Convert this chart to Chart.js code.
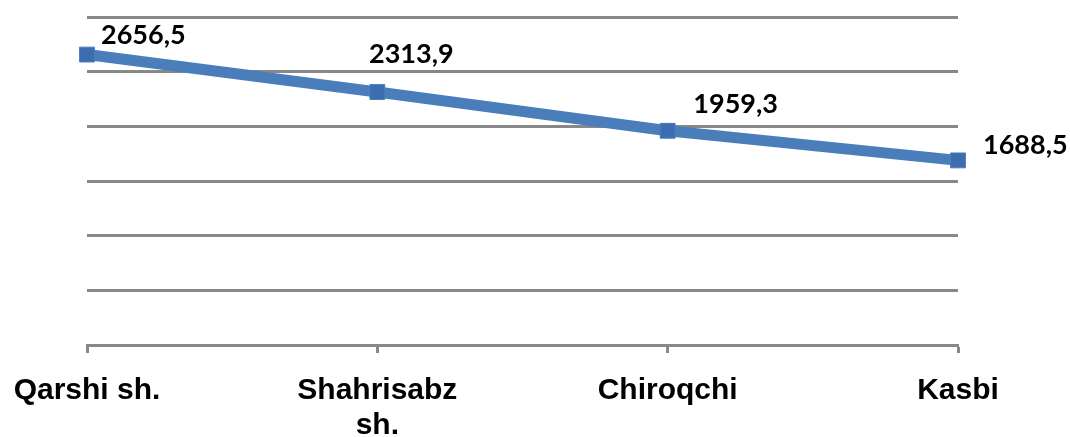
<!DOCTYPE html>
<html>
<head>
<meta charset="utf-8">
<script src="https://cdn.jsdelivr.net/npm/chart.js@4.4.1/dist/chart.umd.min.js"></script>
<style>
  html, body { margin: 0; padding: 0; background: #fff; }
  #wrap { width: 1070px; height: 437px; }
</style>
</head>
<body>
<div id="wrap"><canvas id="lineChart" width="1070" height="437"></canvas></div>
<script>
// chart data
var districts = ['Qarshi sh.', ['Shahrisabz', 'sh.'], 'Chiroqchi', 'Kasbi'];
var values = [2656.5, 2313.9, 1959.3, 1688.5];
var yTicks = [0, 500, 1000, 1500, 2000, 2500, 3000];

// where each value label sits relative to its point (style only)
var labelShift = [[14, -19], [34, -38], [68, -26], [25, -15]];

var valueLabels = {
    id: 'valueLabels',
    afterDatasetsDraw: function(chart) {
        var ctx = chart.ctx;
        var meta = chart.getDatasetMeta(0);
        ctx.save();
        ctx.font = 'bold 27px Lato';
        ctx.fillStyle = '#000';
        ctx.textBaseline = 'middle';
        ctx.textAlign = 'left';
        meta.data.forEach(function(pt, i) {
            var txt = values[i].toFixed(1).replace('.', ',');
            var w = ctx.measureText(txt).width;
            var x = pt.x + labelShift[i][0];
            if (i == 1 || i == 2) x = x - w / 2;
            ctx.fillText(txt, x, pt.y + labelShift[i][1]);
        });
        ctx.restore();
    }
};

var ctx = document.getElementById('lineChart').getContext('2d');
var myChart = new Chart(ctx, {
    type: 'line',
    data: {
        labels: districts,
        datasets: [{
            data: values,
            borderColor: '#4A7EBB',
            borderWidth: 11,
            backgroundColor: '#3C6DB0',
            pointStyle: 'rect',
            pointRadius: 10.5,
            pointBorderWidth: 1,
            pointBorderColor: '#4A7EBB',
            tension: 0
        }]
    },
    options: {
        responsive: false,
        animation: false,
        layout: { padding: { left: 0, right: 112, top: 17, bottom: 0 } },
        plugins: {
            legend: { display: false },
            tooltip: { enabled: false }
        },
        scales: {
            x: {
                offset: false,
                afterFit: function(scale) {
                    scale.height = 92;
                    scale.paddingLeft = 0;
                    scale.paddingRight = 0;
                },
                grid: {
                    drawOnChartArea: false,
                    drawTicks: true,
                    tickLength: 8,
                    tickWidth: 3,
                    color: '#888888'
                },
                border: { display: true, color: '#888888', width: 3 },
                ticks: {
                    color: '#000',
                    padding: 20,
                    maxRotation: 0,
                    autoSkip: false,
                    font: { family: 'Liberation Sans', weight: 'bold', size: 30, lineHeight: 1.17 }
                }
            },
            y: {
                min: 0,
                max: 3000,
                afterFit: function(scale) { scale.width = 87; },
                afterBuildTicks: function(scale) {
                    scale.ticks = yTicks.map(function(v) { return { value: v }; });
                },
                grid: {
                    color: '#888888',
                    lineWidth: 3,
                    drawTicks: false
                },
                border: { display: false },
                ticks: { display: false }
            }
        }
    },
    plugins: [valueLabels]
});
</script>
</body>
</html>
